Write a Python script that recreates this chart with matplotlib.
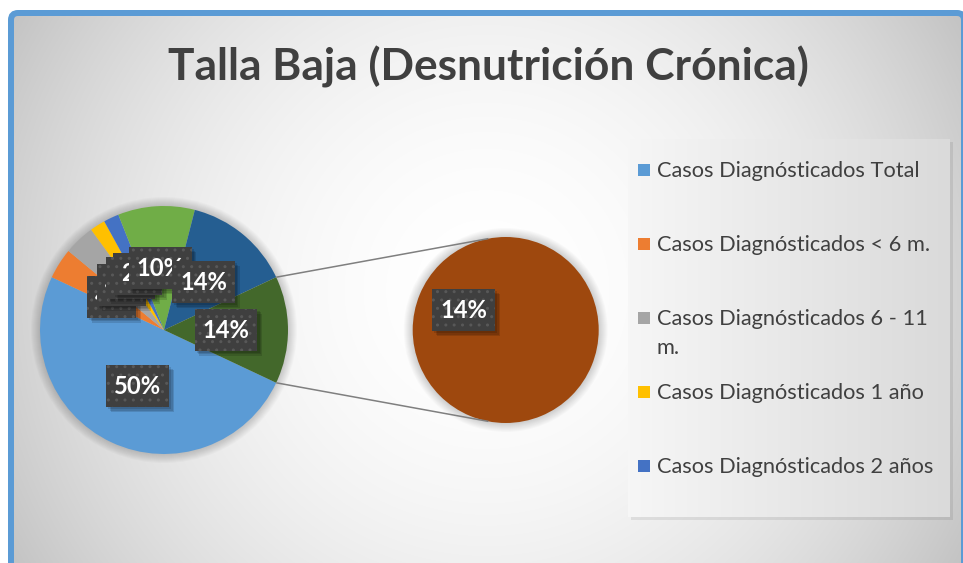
import numpy as np
import matplotlib
matplotlib.use("Agg")
import matplotlib.pyplot as plt
from matplotlib.patches import FancyBboxPatch, Rectangle, Circle
from matplotlib.path import Path
import matplotlib.patheffects as pe

# ---------------- data ----------------
title = "Talla Baja (Desnutrición Crónica)"
legend_labels = [
    "Casos Diagnósticados Total",
    "Casos Diagnósticados < 6 m.",
    "Casos Diagnósticados 6 - 11 m.",
    "Casos Diagnósticados 1 año",
    "Casos Diagnósticados 2 años",
]
main_values = [50, 4, 4, 2, 2, 10, 14]      # % slices of the main pie
secondary_values = [14]                      # % slices moved to the secondary pie
main_colors = ["#5B9BD5", "#ED7D31", "#A5A5A5", "#FFC000", "#4472C4", "#70AD47", "#255E91"]
other_color = "#43682B"
secondary_colors = ["#9E480E"]

# ---------------- layout ----------------
W, H = 963, 563
def Y(py):
    return H - py

FONT = "Lato"
TXT = "#404040"

fig = plt.figure(figsize=(W / 100, H / 100), dpi=100)
fig.patch.set_facecolor("white")
ax = fig.add_axes([0, 0, 1, 1])

# chart-area radial gradient background
yy, xx = np.mgrid[0:H, 0:W]
r = np.hypot(xx - 486, yy - 290)
g = np.clip(255 - 61 * (r / 554) ** 2, 180, 255) / 255.0
img = np.dstack([g, g, g])
img[:, :11] = 1.0
img[:13, :] = 1.0
ax.imshow(img, extent=(0, W, 0, H), origin="upper", zorder=0, interpolation="bilinear")

# blue frame
frame = FancyBboxPatch((11, -40), 964 - 11, Y(13) + 40,
                       boxstyle="round,pad=0,rounding_size=7",
                       fc="none", ec="#5B9BD5", lw=6 * 0.72, zorder=1)
ax.add_patch(frame)

# ---------------- pies ----------------
total = sum(main_values) + sum(secondary_values)
other = sum(secondary_values)
vals = main_values + [other]
other_angle = 360.0 * other / total
start = -other_angle / 2

c1, R1 = (164, Y(330)), 124
c2, R2 = (505.7, Y(330)), 93

# soft halos
for c, R in ((c1, R1), (c2, R2)):
    for k in range(1, 10):
        ax.add_patch(Circle(c, R + k, fc="#000000", ec="none", alpha=0.018, zorder=1.5))

lab_props = dict(color="white", fontweight="bold", family=FONT, fontsize=16)

w1, t1, a1 = ax.pie(vals, colors=main_colors + [other_color], startangle=start,
                    counterclock=False, center=c1, radius=R1,
                    autopct=lambda p: f"{p:.0f}%", pctdistance=0.5,
                    textprops=lab_props, wedgeprops=dict(linewidth=0, zorder=2),
                    frame=True)
sec_total = sum(secondary_values)
w2, t2, a2 = ax.pie(secondary_values, colors=secondary_colors, startangle=start,
                    counterclock=True, center=c2, radius=R2,
                    autopct=lambda p: f"{p * sec_total / total:.0f}%", pctdistance=0.5,
                    textprops=lab_props, wedgeprops=dict(linewidth=0, zorder=2),
                    frame=True)

# connector lines
for sgn in (1, -1):
    a_main = np.deg2rad(sgn * other_angle / 2)
    a_sec = np.deg2rad(sgn * 100.7)
    p0 = (c1[0] + R1 * np.cos(a_main), c1[1] + R1 * np.sin(a_main))
    p1 = (c2[0] + R2 * np.cos(a_sec), c2[1] + R2 * np.sin(a_sec))
    ax.plot([p0[0], p1[0]], [p0[1], p1[1]], color="#7F7F7F", lw=1.1, zorder=2.5,
            solid_capstyle="butt")

renderer = fig.canvas.get_renderer()

def fit(t, target):
    w = t.get_window_extent(renderer).width
    t.set_fontsize(t.get_fontsize() * target / w)

def label_box(x0, y0, width, height, mutation_size):
    px, py = 8.0, 9.5
    xa, xb = x0 - px, x0 + width + px
    ya, yb = y0 - py, y0 + height + py
    return Path([(xa, ya), (xb, ya), (xb, yb), (xa, yb), (xa, ya)],
                [Path.MOVETO, Path.LINETO, Path.LINETO, Path.LINETO, Path.CLOSEPOLY])

# data labels
fit(a1[-1], 47)
fs_lab = a1[-1].get_fontsize()
shadow = [pe.SimplePatchShadow(offset=(o, -o), shadow_rgbFace="#000000", alpha=0.13, hatch=None)
          for o in (1.5, 2.5, 3.5)]
for t in list(a1) + list(a2):
    t.set_fontsize(fs_lab)
    t.set_zorder(4)
    t.set_bbox(dict(boxstyle=label_box, fc="#3F3F3F", ec="#585858", lw=0, hatch=".."))
    t.get_bbox_patch().set_path_effects(shadow + [pe.Normal()])

# ---------------- title ----------------
tt = ax.text(488, Y(80), title, ha="center", va="baseline", family=FONT,
             fontweight="bold", color=TXT, fontsize=30, zorder=5)
fit(tt, 640)

# ---------------- legend ----------------
lx0, ly0, lx1, ly1 = 628, 139, 950, 517
ax.add_patch(Rectangle((lx0 + 3, Y(ly1) - 3), lx1 - lx0, ly1 - ly0, fc="#000000",
                       ec="none", alpha=0.08, zorder=2))
grad = np.linspace(0.965, 0.855, 200)
limg = np.dstack([np.tile(grad, (10, 1))] * 3)
ax.imshow(limg, extent=(lx0, lx1, Y(ly1), Y(ly0)), origin="upper", zorder=2.1,
          interpolation="bilinear", aspect="auto")

row_base = [177, 251, 325, 399, 473]
probe = ax.text(0, 0, legend_labels[0], family=FONT, fontsize=15)
fit(probe, 263)
fs_leg = probe.get_fontsize()
probe.remove()
avail = lx1 - 657 - 8
for i, lab in enumerate(legend_labels):
    yb = row_base[i]
    ax.add_patch(Rectangle((638, Y(yb - 1)), 12, 12, fc=main_colors[i], ec="none", zorder=3))
    t = ax.text(657, Y(yb), lab, family=FONT, fontsize=fs_leg, color=TXT,
                va="baseline", ha="left", zorder=3)
    if t.get_window_extent(renderer).width > avail:
        first, last = lab.rsplit(" ", 1)
        t.set_text(first)
        ax.text(657, Y(yb + 29), last, family=FONT, fontsize=fs_leg, color=TXT,
                va="baseline", ha="left", zorder=3)

ax.set_xlim(0, W)
ax.set_ylim(0, H)
ax.set_aspect("auto")
ax.axis("off")
fig.savefig("out.png", dpi=100)
